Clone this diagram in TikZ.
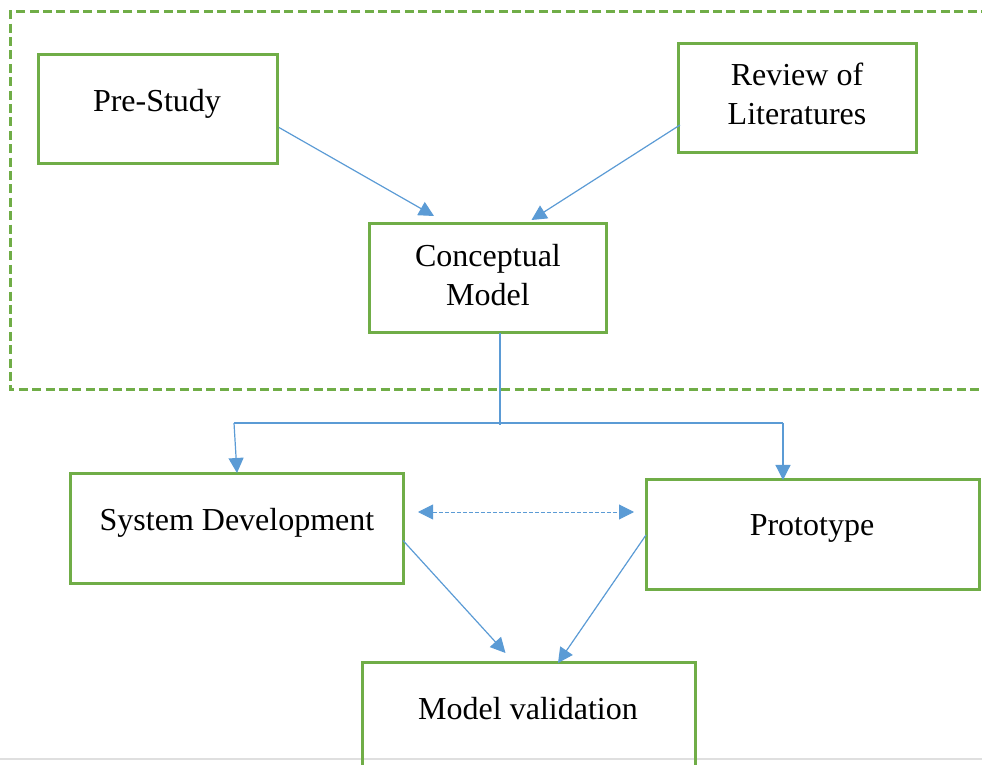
\documentclass[tikz,border=0pt]{standalone}
\usepackage{fontspec}
\setmainfont{Liberation Serif}
\usetikzlibrary{arrows.meta,calc}
\definecolor{boxgreen}{HTML}{70AD47}
\definecolor{linkblue}{HTML}{5B9BD5}
\begin{document}
\begin{tikzpicture}[x=0.5pt,y=-0.5pt,
  box/.style 2 args={draw=boxgreen,line width=1.5pt,inner sep=0pt,outer sep=0pt,
    minimum width=#1,minimum height=#2},
  label text/.style={inner sep=0pt,align=center,font=\fontsize{16pt}{19.5pt}\selectfont},
  link/.style={draw=linkblue,line width=0.6pt},
  arr/.style={link,-{Triangle[length=7.5pt,width=7.5pt]}},
  dasharr/.style={draw=linkblue,line width=0.5pt,dash pattern=on 2pt off 1pt,
    {Triangle[length=7.5pt,width=7.5pt]}-{Triangle[length=7.5pt,width=7.5pt]}},
  groupframe/.style={draw=boxgreen,line width=1.5pt,dash pattern=on 4.5pt off 2.2pt}
]
\useasboundingbox (0,0) rectangle (982,765);

% page edge line
\draw[gray!25,line width=1pt] (0,759) -- (982,759);

% dashed frame around the study phase
\draw[groupframe] (990,12) -- (10,12) -- (10,390) -- (990,390);

% boxes
\node[box={119.5pt}{54.5pt}] (ps) at (157.5,109.5) {};
\node[box={119pt}{54.5pt}]   (rv) at (797,98.5) {};
\node[box={118.5pt}{54.5pt}] (cm) at (487.5,278.5) {};
\node[box={166.5pt}{54.5pt}] (sd) at (236.5,528.5) {};
\node[box={166.5pt}{54.5pt}] (pt) at (812.5,534.5) {};
\node[box={166.5pt}{100pt}]  (mv) at (528.5,762) {};

% box texts
\node[label text] (ps-t) at (157,104) {Pre-Study};
\node[label text] (rv-t) at (797,94) {Review of\\Literatures};
\node[label text] (cm-t) at (488,275) {Conceptual\\Model};
\node[label text] (sd-t) at (237,523) {System Development};
\node[label text] (pt-t) at (812,528) {Prototype};
\node[label text] (mv-t) at (528,709) {Model validation};

% inputs to the conceptual model
\draw[arr] ($(ps.east)+(2,18)$) -- ($(cm.north)+(-53.5,-8)$);
\draw[arr] ($(rv.west)+(2,26.5)$) -- ($(cm.north)+(44,-4)$);

% branching below the conceptual model
\coordinate (jn) at (500,423);
\coordinate (jl) at (234,423);
\coordinate (jr) at (783,423);
\draw[link] (cm.south -| jn) -- ($(jn)+(0,2)$);
\draw[link] (jl) -- (jr);
\draw[arr] (jl) -- ($(sd.north)+(0.5,-1)$);
\draw[arr] (jr) -- (jr |- pt.north);

% link between development and prototype
\draw[dasharr] ($(sd.east)+(15,-16.5)$) -- ($(pt.west)+(-12,-22.5)$);

% towards validation
\draw[arr] ($(sd.east)+(0,12)$) -- ($(mv.north)+(-23,-9)$);
\draw[arr] ($(pt.west)+(0,0.5)$) -- ($(mv.north)+(29.5,1)$);
\end{tikzpicture}
\end{document}
